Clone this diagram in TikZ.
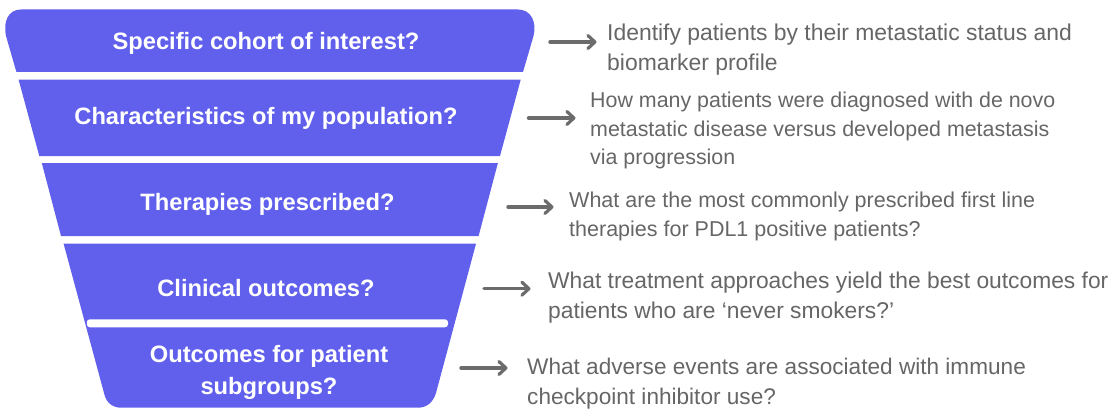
\documentclass[tikz,border=0pt]{standalone}
\usepackage{fontspec}
\setmainfont{Liberation Sans}
\usetikzlibrary{arrows.meta}
\definecolor{funnel}{HTML}{6060EC}
\definecolor{note}{HTML}{666666}
\definecolor{arr}{HTML}{6B6B6B}
\tikzset{
  band/.style={fill=funnel,draw=none},
  bandlabel/.style={text=white,font=\fontsize{23.7}{32}\selectfont\bfseries,align=center,inner sep=0pt},
  notetext/.style 2 args={text=note,font=\fontsize{#1}{#2}\selectfont,align=left,anchor=west,inner sep=0pt},
  pointer/.style={draw=arr,line width=3.4pt,line cap=round,-{Straight Barb[length=7pt,width=13pt,line width=3.2pt,round]}}
}
\begin{document}
\begin{tikzpicture}[x=1pt,y=-1pt]
\useasboundingbox (0,0) rectangle (1108,409);
% funnel bands
\fill[band] (16.4,72) -- (6,36) .. controls (3,22) and (8,9.5) .. (21,9.5) -- (518,9.5) .. controls (531,9.5) and (537,22) .. (533.5,36) -- (523,72) -- cycle;
\fill[band] (18.6,79.7) -- (520.7,79.7) -- (500,156) -- (39.3,156) -- cycle;
\fill[band] (41.8,163) -- (497.9,163) -- (478.6,236) -- (61,236) -- cycle;
\fill[band] (63.6,243.7) -- (476,243.7) -- (436,393) .. controls (433,403) and (426,407.7) .. (418,407.7) -- (121,407.7) .. controls (113,407.7) and (106,403) .. (104,393) -- cycle;
\fill[white,rounded corners=3pt] (86.8,319.3) rectangle (448,327.3);
% funnel labels
\node[bandlabel] (l1) at (266,43) {Specific cohort of interest?};
\node[bandlabel] (l2) at (266,118) {Characteristics of my population?};
\node[bandlabel] (l3) at (267.5,204) {Therapies prescribed?};
\node[bandlabel] (l4) at (266,288) {Clinical outcomes?};
\node[bandlabel] (l5) at (269,372.5) {Outcomes for patient\\subgroups?};
% notes
\node[notetext={22.9}{30}] (n1) at (607,49.5) {Identify patients by their metastatic status and\\biomarker profile};
\node[notetext={21.4}{28.3}] (n2) at (590,130.5) {How many patients were diagnosed with de novo\\metastatic disease versus developed metastasis\\via progression};
\node[notetext={21.5}{28.3}] (n3) at (569,216.5) {What are the most commonly prescribed first line\\therapies for PDL1 positive patients?};
\node[notetext={22.8}{30}] (n4) at (548,297.5) {What treatment approaches yield the best outcomes for\\patients who are ‘never smokers?’};
\node[notetext={22.6}{30}] (n5) at (527,383.5) {What adverse events are associated with immune\\checkpoint inhibitor use?};
% arrows
\coordinate (a1) at (550,42); \coordinate (b1) at (596.5,42);
\coordinate (a2) at (528.5,118); \coordinate (b2) at (575.5,118);
\coordinate (a3) at (508,207); \coordinate (b3) at (553.5,207);
\coordinate (a4) at (484,288.7); \coordinate (b4) at (530.5,288.7);
\coordinate (a5) at (461,368); \coordinate (b5) at (507.5,368);
\draw[pointer] (a1) -- (b1);
\draw[pointer] (a2) -- (b2);
\draw[pointer] (a3) -- (b3);
\draw[pointer] (a4) -- (b4);
\draw[pointer] (a5) -- (b5);
\end{tikzpicture}
\end{document}
